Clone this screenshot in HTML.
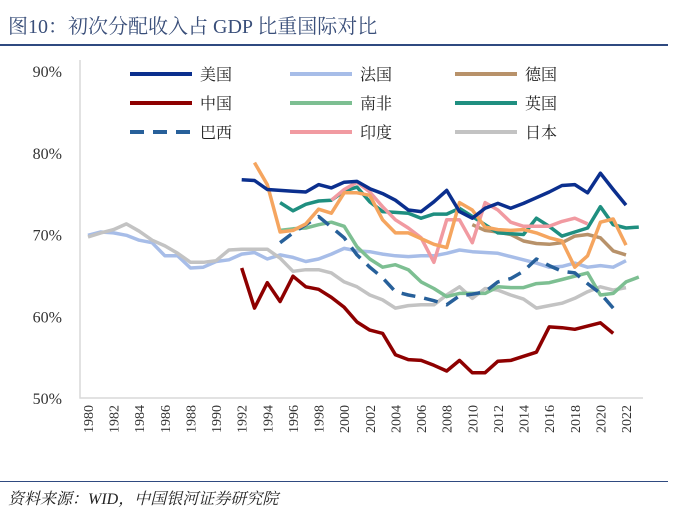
<!DOCTYPE html>
<html><head><meta charset="utf-8">
<style>
body{margin:0;background:#fff;width:696px;height:518px;overflow:hidden;font-family:"Liberation Serif","Noto Serif CJK SC",serif;}
#title{position:absolute;left:8px;top:10px;font-size:20px;color:#3a4f7a;}
#rule1{position:absolute;left:0;top:44px;width:668px;height:1.5px;background:#2f4a80;}
#rule2{position:absolute;left:0;top:481px;width:668px;height:1px;background:#2f4a80;}
#src{position:absolute;left:8px;top:486px;font-size:16px;font-style:italic;color:#222;}
svg{position:absolute;left:0;top:0;}
</style></head><body>
<div id="title">图10：初次分配收入占 GDP 比重国际对比</div>
<div id="rule1"></div>
<svg id="chart" width="696" height="518"></svg>
<div id="rule2"></div>
<div id="src">资料来源：WID，中国银河证券研究院</div>
<script>
const yTicks=[50,60,70,80,90];
const xYears=[1980,1982,1984,1986,1988,1990,1992,1994,1996,1998,2000,2002,2004,2006,2008,2010,2012,2014,2016,2018,2020,2022];
const usStart=1992;
const usVals=[76.7,76.6,75.5,75.4,75.3,75.2,76.1,75.7,76.4,76.5,75.6,75.0,74.2,73.0,72.8,74.0,75.4,72.8,72.0,73.2,73.8,73.2,73.8,74.5,75.2,76.0,76.1,75.1,77.5,75.5,73.6];
const frStart=1980;
const frVals=[69.9,70.3,70.2,69.9,69.3,69.0,67.4,67.4,65.9,66.0,66.7,66.9,67.6,67.8,67.0,67.5,67.2,66.7,67.0,67.6,68.3,68.0,67.9,67.6,67.4,67.3,67.4,67.4,67.7,68.1,67.9,67.8,67.7,67.3,66.9,66.5,66.0,66.1,66.5,66.0,66.2,66.0,66.8];
const deStart=2010;
const deVals=[71.2,70.5,70.3,70.0,69.2,68.9,68.8,69.0,69.8,70.0,69.6,68.0,67.5];
const cnStart=1992;
const cnVals=[65.9,61.0,64.1,61.8,64.9,63.6,63.3,62.3,61.1,59.3,58.3,57.9,55.3,54.7,54.6,54.0,53.3,54.6,53.1,53.1,54.5,54.6,55.1,55.6,58.7,58.6,58.4,58.8,59.2,57.9];
const zaStart=1995;
const zaVals=[70.5,70.7,70.8,71.2,71.5,71.0,68.5,67.0,66.0,66.3,65.7,64.2,63.4,62.4,62.8,62.8,62.8,63.6,63.5,63.5,64.0,64.1,64.5,64.9,65.3,62.6,62.8,64.2,64.8];
const ukStart=1995;
const ukVals=[73.9,72.9,73.7,74.1,74.2,75.3,75.8,74.0,72.8,72.7,72.6,72.0,72.5,72.5,73.2,72.2,71.2,70.2,70.1,70.0,72.0,71.0,69.8,70.3,70.8,73.4,71.2,70.8,70.9];
const brStart=1995;
const brVals=[69.0,70.2,71.2,72.2,70.9,69.6,67.5,66.0,64.7,63.0,62.6,62.3,61.9,61.4,62.5,62.7,63.0,64.2,64.6,65.5,67.0,66.2,65.5,65.3,64.0,62.8,61.0];
const inStart=1999;
const inVals=[74.2,75.5,76.4,75.2,73.4,71.8,70.8,69.6,66.6,71.8,71.8,69.0,73.9,73.0,71.5,71.0,71.0,71.0,71.6,72.0,71.3];
const orStart=1993;
const orVals=[78.8,76.1,70.3,70.5,71.3,73.1,72.6,75.1,75.1,74.8,71.8,70.2,70.2,69.5,68.8,68.4,73.9,73.0,70.9,70.6,70.5,70.6,70.2,69.6,69.2,66.0,67.4,71.5,71.9,68.7];
const jpStart=1980;
const jpVals=[69.7,70.2,70.6,71.3,70.4,69.3,68.6,67.7,66.6,66.6,66.8,68.1,68.2,68.2,68.2,67.1,65.5,65.7,65.7,65.3,64.2,63.6,62.6,62.0,61.0,61.3,61.4,61.4,62.6,63.6,62.2,63.4,63.2,62.6,62.1,61.0,61.3,61.6,62.2,63.0,63.6,63.2,63.5];

const svg=document.getElementById('chart');
const NS='http://www.w3.org/2000/svg';
const X0=88,XS=12.81,Y90=71,YS=8.175;
function xs(yr){return X0+(yr-1980)*XS;}
function ys(v){return Y90+(90-v)*YS;}
function mk(t,a){const e=document.createElementNS(NS,t);for(const k in a)e.setAttribute(k,a[k]);svg.appendChild(e);return e;}

const axl=mk('polyline',{points:'80,60 80,398 643,398',fill:'none',stroke:'#d9d9d9','stroke-width':1.5});



yTicks.forEach(v=>{
  const t=mk('text',{x:62,y:ys(v)+6,'text-anchor':'end','font-size':16,fill:'#333','font-family':'"Liberation Serif",serif'});
  t.textContent=v+'%';
  
  
});
xYears.forEach(yr=>{
  const x=xs(yr);
  const t=mk('text',{x:0,y:0,transform:`translate(${x+5},405) rotate(-90)`,'text-anchor':'end','font-size':14,fill:'#333','font-family':'"Liberation Serif",serif'});
  t.textContent=yr;
  
  
});

const series=[
 ['france',frStart,frVals,'#a7bde8',null],
 ['japan',jpStart,jpVals,'#c3c3c3',null],
 ['germany',deStart,deVals,'#b8926a',null],
 ['south-africa',zaStart,zaVals,'#7dbf92',null],
 ['brazil',brStart,brVals,'#27609a','14 9'],
 ['china',cnStart,cnVals,'#8e0000',null],
 ['uk',ukStart,ukVals,'#1f8f80',null],
 ['india',inStart,inVals,'#f19aa1',null],
 ['orange-series',orStart,orVals,'#f5a55f',null],
 ['us',usStart,usVals,'#0b2f8e',null]
];
series.forEach(s=>{
  const pts=s[2].map((v,i)=>xs(s[1]+i).toFixed(1)+','+ys(v).toFixed(1)).join(' ');
  const a={points:pts,fill:'none',stroke:s[3],'stroke-width':3.5,'stroke-linejoin':'round'};
  if(s[4])a['stroke-dasharray']=s[4];
  const p=mk('polyline',a);
  
  
});

const legend=[
 ['美国','#0b2f8e',null,130,74],['法国','#a7bde8',null,290,74],['德国','#b8926a',null,455,74],
 ['中国','#8e0000',null,130,103],['南非','#7dbf92',null,290,103],['英国','#1f8f80',null,455,103],
 ['巴西','#27609a','14 9',130,132],['印度','#f19aa1',null,290,132],['日本','#c3c3c3',null,455,132]
];
legend.forEach(l=>{
  const a={x1:l[3],x2:l[3]+62,y1:l[4],y2:l[4],stroke:l[1],'stroke-width':4};
  if(l[2])a['stroke-dasharray']=l[2];
  const ln=mk('line',a);
  
  
  const t=mk('text',{x:l[3]+70,y:l[4]+6,'font-size':16,fill:'#222','font-family':'"Liberation Serif","Noto Serif CJK SC",serif'});
  t.textContent=l[0];
  
  
});
</script>
</body></html>
